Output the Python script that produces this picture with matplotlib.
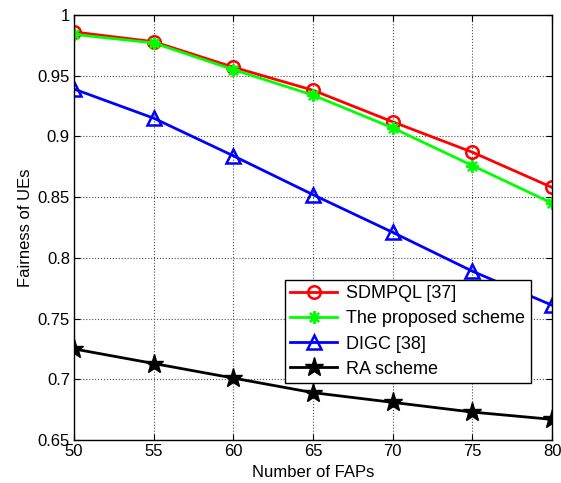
import numpy as np
import matplotlib
matplotlib.use('Agg')
import matplotlib.pyplot as plt

plt.rcParams['font.family'] = ['Liberation Sans', 'DejaVu Sans']

#Data
faps = [50, 55, 60, 65, 70, 75, 80]
sdmpql = [0.986, 0.978, 0.957, 0.938, 0.912, 0.887, 0.858]
proposed = [0.984, 0.977, 0.955, 0.934, 0.907, 0.876, 0.845]
digc = [0.939, 0.915, 0.884, 0.852, 0.821, 0.789, 0.761]
ra = [0.725, 0.713, 0.701, 0.689, 0.681, 0.673, 0.667]

fig = plt.figure(figsize=(5.61, 4.83), dpi=100)
ax = fig.add_axes([0.132, 0.089, 0.852, 0.880])

ax.plot(faps, sdmpql, 'r-o', linewidth=2.0, markersize=9, markerfacecolor='none',
        markeredgewidth=1.8, label='SDMPQL [37]')
ax.plot(faps, proposed, '-', color='#00ff00', marker=(8, 2, 0), linewidth=2.0,
        markersize=9, markeredgewidth=1.6, label='The proposed scheme')
ax.plot(faps, digc, 'b-^', linewidth=2.0, markersize=10, markerfacecolor='none',
        markeredgewidth=1.8, label='DIGC [38]')
ax.plot(faps, ra, 'k-*', linewidth=2.0, markersize=14, label='RA scheme')

ax.set_xlim(50, 80)
ax.set_ylim(0.65, 1.0)
ax.set_xticks(np.arange(50, 81, 5))
ax.set_yticks([0.65, 0.7, 0.75, 0.8, 0.85, 0.9, 0.95, 1.0])
ax.set_yticklabels(['0.65', '0.7', '0.75', '0.8', '0.85', '0.9', '0.95', '1'])
ax.tick_params(direction='in', top=True, right=True, labelsize=12, length=4, pad=3)
ax.grid(True, linestyle=':', color='0.3', linewidth=0.8)
for s in ax.spines.values():
    s.set_linewidth(1.0)

ax.set_xlabel('Number of FAPs', fontsize=12, labelpad=4)
ax.set_ylabel('Fairness of UEs', fontsize=12, labelpad=3)

leg = ax.legend(loc='lower right', bbox_to_anchor=(0.955, 0.134), fontsize=13,
                fancybox=False, framealpha=1, edgecolor='black', borderpad=0.3,
                labelspacing=0.45, handlelength=2.6, handletextpad=0.5,
                borderaxespad=0)
leg.get_frame().set_linewidth(1.0)

plt.savefig('out.png', dpi=100)
